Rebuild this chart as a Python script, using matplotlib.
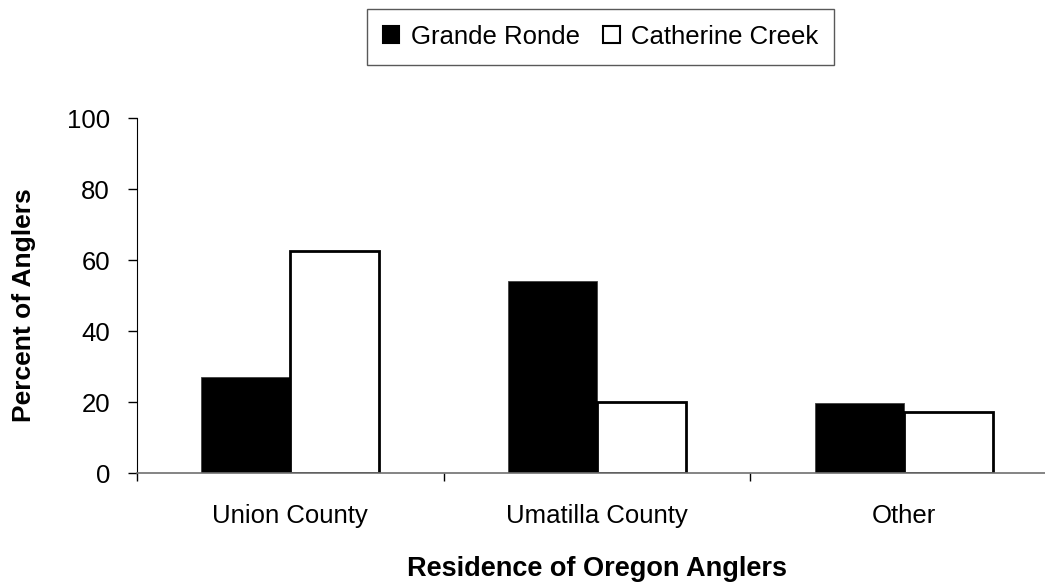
import matplotlib
matplotlib.use('Agg')
import matplotlib.pyplot as plt
from matplotlib.ticker import FixedLocator
import numpy as np

plt.rcParams['font.family'] = ['Liberation Sans', 'DejaVu Sans']

categories = ['Union County', 'Umatilla County', 'Other']
grande_ronde = [27.0, 54.2, 19.7]
catherine_creek = [62.6, 20.2, 17.2]
yticks = [0, 20, 40, 60, 80, 100]

fig = plt.figure(figsize=(10.45, 5.86), dpi=100)
ax = fig.add_axes([0.1311, 0.1923, 0.8804, 0.6063])

x = np.arange(len(categories))
w = 0.29
ax.bar(x, grande_ronde, width=-w, align='edge', color='black',
       edgecolor='#404040', linewidth=0.6, label='Grande Ronde')
ax.bar(x, catherine_creek, width=w, align='edge', color='white',
       edgecolor='black', linewidth=2, label='Catherine Creek')

ax.set_xlim(-0.5, 2.5)
ax.set_ylim(0, 100)
ax.set_yticks(yticks)
ax.set_xticks(x)
ax.set_xticklabels(categories)
ax.xaxis.set_minor_locator(FixedLocator([-0.5, 0.5, 1.5, 2.5]))
ax.tick_params(axis='x', which='major', length=0, pad=22, labelsize=18.5)
ax.tick_params(axis='x', which='minor', length=6, width=1, direction='out', color='black')
ax.tick_params(axis='y', length=6.5, width=1, direction='out', pad=13, labelsize=18.5)

ax.spines['top'].set_visible(False)
ax.spines['right'].set_visible(False)
ax.spines['bottom'].set_color('#707070')
ax.spines['bottom'].set_linewidth(1.2)
ax.spines['left'].set_color('black')

ax.set_ylabel('Percent of Anglers', fontsize=19, fontweight='bold')
ax.set_xlabel('Residence of Oregon Anglers', fontsize=19.5, fontweight='bold', labelpad=20)
ax.yaxis.set_label_coords(-0.11, 0.473)

leg = fig.legend(loc='upper center', bbox_to_anchor=(0.5746, 0.985), ncol=2,
                 fontsize=18.5, frameon=True, fancybox=False, shadow=False,
                 handlelength=0.65, handleheight=0.65, handletextpad=0.45,
                 columnspacing=0.9, borderpad=0.62, borderaxespad=0)
leg.get_frame().set_edgecolor('#303030')
leg.get_frame().set_linewidth(1)
for h in leg.legend_handles:
    h.set_linewidth(1.5)
    h.set_edgecolor('black')

fig.savefig('out.png', dpi=100)
